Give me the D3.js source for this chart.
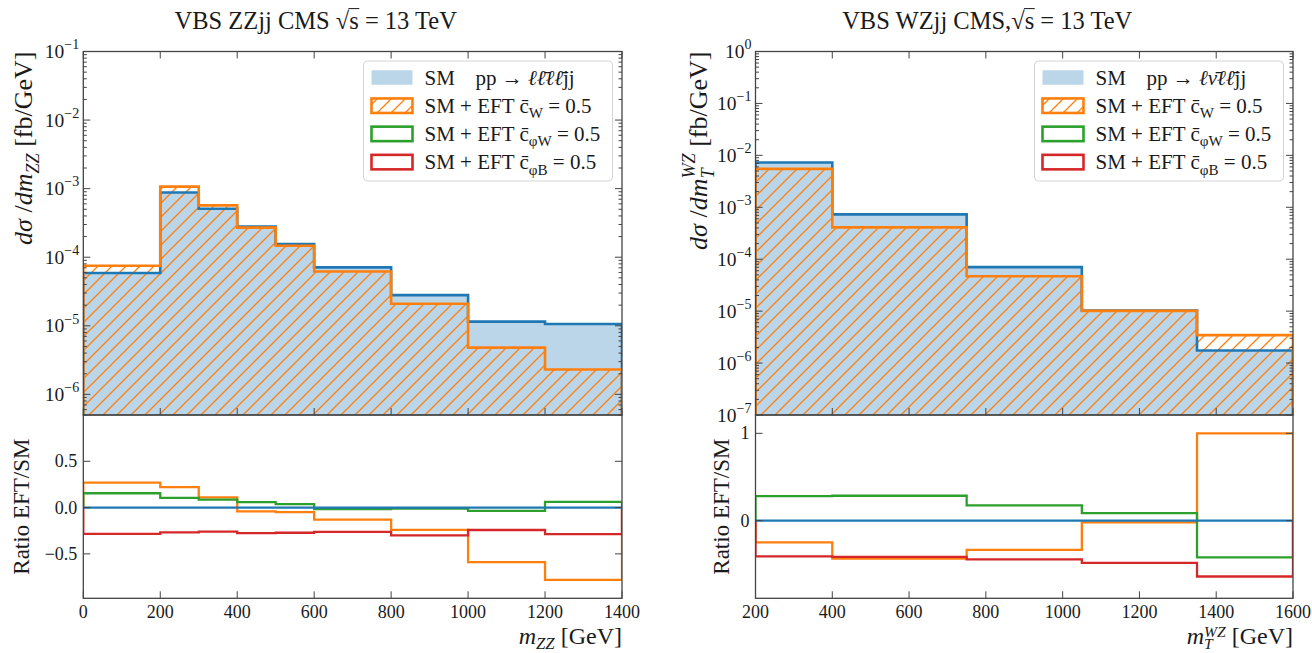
<!DOCTYPE html>
<html><head><meta charset="utf-8">
<script src="https://cdn.jsdelivr.net/npm/d3@7"></script>
<style>
body{margin:0;background:#fff}
text{font-family:"Liberation Serif","DejaVu Serif",serif;fill:#1a1a1a}
</style>
</head><body>
<svg id="c" width="1312" height="653"></svg>
<script>
// ---------------- DATA ----------------
// ZZ panel (m_ZZ bins, GeV)
const zzEdges = [0, 200, 300, 400, 500, 600, 800, 1000, 1200, 1400];
const zzSM    = [5.9e-5, 8.8e-4, 5.1e-4, 2.8e-4, 1.55e-4, 7.1e-5, 2.8e-5, 1.15e-5, 1.06e-5];
const zzCW    = [7.5e-5, 1.07e-3, 5.7e-4, 2.7e-4, 1.47e-4, 6.2e-5, 2.1e-5, 4.8e-6, 2.3e-6];
const zzRatioCW    = [0.27, 0.22, 0.11, -0.04, -0.05, -0.13, -0.24, -0.59, -0.78];
const zzRatioCphiW = [0.155, 0.105, 0.085, 0.058, 0.037, -0.017, -0.012, -0.036, 0.062];
const zzRatioCphiB = [-0.285, -0.268, -0.26, -0.275, -0.272, -0.262, -0.30, -0.242, -0.286];
const zzXTicks = [0, 200, 400, 600, 800, 1000, 1200, 1400];
const zzRTicks = [-0.5, 0.0, 0.5];
const zzRTickLabels = ["\u22120.5", "0.0", "0.5"];

// WZ panel (m_T^WZ bins, GeV)
const wzEdges = [200, 400, 750, 1050, 1350, 1600];
const wzSM    = [7.3e-3, 7.3e-4, 7.05e-5, 1.03e-5, 1.75e-6];
const wzCW    = [5.5e-3, 4.1e-4, 4.7e-5, 1.01e-5, 3.45e-6];
const wzRatioCW    = [-0.25, -0.435, -0.335, -0.02, 1.0];
const wzRatioCphiW = [0.28, 0.285, 0.175, 0.085, -0.42];
const wzRatioCphiB = [-0.41, -0.415, -0.445, -0.485, -0.64];
const wzXTicks = [200, 400, 600, 800, 1000, 1200, 1400, 1600];
const wzRTicks = [0, 1];
const wzRTickLabels = ["0", "1"];

const legendCoeffs = [["W"], ["\u03c6W"], ["\u03c6B"]];

// ---------------- STYLE ----------------
const COL = {blue:"#1f77b4", orange:"#ff7f0e", green:"#2ca02c", red:"#d62728", spine:"#444"};
const TOP = 51.5, MID = 415, BOT = 598.3;

const svg = d3.select("#c");
const defs = svg.append("defs");
const pat = defs.append("pattern").attr("id","hatch").attr("patternUnits","userSpaceOnUse")
  .attr("width",14).attr("height",14);
pat.append("path").attr("d","M-2,16 L16,-2 M-9,9 L9,-9 M5,23 L23,5")
  .attr("stroke",COL.orange).attr("stroke-width",1.3).attr("fill","none");

function rich(parent, segs, fs, attrs){
  const t = parent.append("text").attr("font-size", fs);
  for (const k in attrs) t.attr(k, attrs[k]);
  let off = 0, prevSub = null;
  segs.forEach(s => {
    const target = s.sub ? (s.shift||0.26)*fs : s.sup ? -(s.shift||0.45)*fs : 0;
    const sp = t.append("tspan").text(s.t).attr("dy", target - off);
    off = target;
    if (s.sub || s.sup) sp.attr("font-size", (s.scale||0.7)*fs);
    if (s.it) sp.attr("font-style","italic");
    if (s.stack && prevSub) sp.attr("dx", -prevSub.node().getComputedTextLength());
    if (s.sub) prevSub = sp;
  });
  return t;
}

const panels = [
  {id:"zz", edges:zzEdges, sm:zzSM, cw:zzCW, rCW:zzRatioCW, rPW:zzRatioCphiW, rPB:zzRatioCphiB,
   x0:83.3, x1:622, yDom:[5e-7,1e-1], rDom:[-0.98,1.0], xTicks:zzXTicks, rTicks:zzRTicks, rLabels:zzRTickLabels,
   title:"VBS ZZjj CMS ", ylabX:32, rlabX:29, xlabY:644,
   ylab:[{t:"d\u03c3",it:true},{t:" /",it:false},{t:"dm",it:true},{t:"ZZ",it:true,sub:true},{t:" [fb/GeV]"}],
   xlab:[{t:"m",it:true},{t:"ZZ",it:true,sub:true,shift:0.2},{t:" [GeV]"}],
   proc:[{t:"pp \u2192 "},{t:"\u2113\u2113\u0304\u2113\u2113\u0304",it:true},{t:"jj"}]},
  {id:"wz", edges:wzEdges, sm:wzSM, cw:wzCW, rCW:wzRatioCW, rPW:wzRatioCphiW, rPB:wzRatioCphiB,
   x0:755.5, x1:1293, yDom:[1e-7,1], rDom:[-0.89,1.21], xTicks:wzXTicks, rTicks:wzRTicks, rLabels:wzRTickLabels,
   title:"VBS WZjj CMS,", ylabX:707, rlabX:729, xlabY:644,
   ylab:[{t:"d\u03c3",it:true},{t:" /",it:false},{t:"dm",it:true},{t:"T",it:true,sub:true},{t:"WZ",it:true,sup:true,stack:true},{t:" [fb/GeV]"}],
   xlab:[{t:"m",it:true},{t:"T",it:true,sub:true,scale:0.65,shift:0.2},{t:"WZ",it:true,sup:true,stack:true,scale:0.65,shift:0.3},{t:" [GeV]"}],
   proc:[{t:"pp \u2192 "},{t:"\u2113\u03bd\u0304\u2113\u2113\u0304",it:true},{t:"jj"}]}
];

panels.forEach((P, pi) => {
  const g = svg.append("g");
  const x = d3.scaleLinear().domain([P.edges[0], P.edges[P.edges.length-1]]).range([P.x0, P.x1]);
  const y = d3.scaleLog().domain(P.yDom).range([MID, TOP]);
  const r = d3.scaleLinear().domain(P.rDom).range([BOT, MID]);

  defs.append("clipPath").attr("id","cm"+pi).append("rect")
    .attr("x",P.x0).attr("y",TOP).attr("width",P.x1-P.x0).attr("height",MID-TOP);
  defs.append("clipPath").attr("id","cr"+pi).append("rect")
    .attr("x",P.x0).attr("y",MID).attr("width",P.x1-P.x0).attr("height",BOT-MID);

  const stepPts = (vals, base) => {
    const pts = [[P.edges[0], base]];
    vals.forEach((v,i) => { pts.push([P.edges[i], v]); pts.push([P.edges[i+1], v]); });
    pts.push([P.edges[P.edges.length-1], base]);
    return pts;
  };
  const lineMain = d3.line().x(d => x(d[0])).y(d => d[1] === null ? MID + 5 : y(d[1]));
  const lineR = d3.line().x(d => x(d[0])).y(d => r(d[1]));

  const gm = g.append("g").attr("clip-path","url(#cm"+pi+")");
  gm.append("path").attr("d", lineMain(stepPts(P.sm, null)) + "Z")
    .attr("fill", COL.blue).attr("fill-opacity",0.3).attr("stroke","none");
  gm.append("path").attr("d", lineMain(stepPts(P.cw, null)) + "Z")
    .attr("fill","url(#hatch)").attr("stroke","none");
  gm.append("path").attr("d", lineMain(stepPts(P.sm, null)))
    .attr("fill","none").attr("stroke",COL.blue).attr("stroke-width",2.6);
  gm.append("path").attr("d", lineMain(stepPts(P.cw, null)))
    .attr("fill","none").attr("stroke",COL.orange).attr("stroke-width",2.6);

  const gr = g.append("g").attr("clip-path","url(#cr"+pi+")");
  [[P.rCW, COL.orange],[P.rPW, COL.green],[P.rPB, COL.red],[P.edges.slice(1).map(()=>0), COL.blue]]
    .forEach(([vals,c]) => {
      gr.append("path").attr("d", lineR(stepPts(vals, 0)))
        .attr("fill","none").attr("stroke",c).attr("stroke-width",2.3);
    });

  const sp = g.append("g").attr("stroke",COL.spine).attr("fill","none").attr("stroke-width",1.3);
  sp.append("rect").attr("x",P.x0).attr("y",TOP).attr("width",P.x1-P.x0).attr("height",MID-TOP);
  sp.append("rect").attr("x",P.x0).attr("y",MID).attr("width",P.x1-P.x0).attr("height",BOT-MID);

  const tk = g.append("g").attr("stroke",COL.spine).attr("stroke-width",1);
  const e0 = Math.ceil(Math.log10(P.yDom[0]) - 1e-9), e1 = Math.floor(Math.log10(P.yDom[1]) + 1e-9);
  for (let e = Math.floor(Math.log10(P.yDom[0])); e <= e1; e++) {
    for (let k = 1; k <= 9; k++) {
      const v = k * Math.pow(10, e);
      if (v < P.yDom[0]*0.999 || v > P.yDom[1]*1.001) continue;
      const L = k === 1 ? 7 : 3.5;
      const yy = y(v);
      tk.append("line").attr("x1",P.x0).attr("x2",P.x0+L).attr("y1",yy).attr("y2",yy);
      tk.append("line").attr("x1",P.x1).attr("x2",P.x1-L).attr("y1",yy).attr("y2",yy);
    }
  }
  for (let e = e0; e <= e1; e++) {
    const supTxt = e < 0 ? "\u2212" + (-e) : String(e);
    rich(g, [{t:"10"},{t:supTxt, sup:true, scale:0.72}], 19.5,
      {x:P.x0-4, y:y(Math.pow(10,e))+6.5, "text-anchor":"end"});
  }
  P.xTicks.forEach(v => {
    const xx = x(v);
    tk.append("line").attr("x1",xx).attr("x2",xx).attr("y1",MID).attr("y2",MID-7);
    tk.append("line").attr("x1",xx).attr("x2",xx).attr("y1",TOP).attr("y2",TOP+7);
    tk.append("line").attr("x1",xx).attr("x2",xx).attr("y1",BOT).attr("y2",BOT-7);
    g.append("text").attr("x",xx).attr("y",BOT+20).attr("text-anchor","middle")
      .attr("font-size",18).text(v);
  });
  P.rTicks.forEach((v,i) => {
    const yy = r(v);
    tk.append("line").attr("x1",P.x0).attr("x2",P.x0+7).attr("y1",yy).attr("y2",yy);
    tk.append("line").attr("x1",P.x1).attr("x2",P.x1-7).attr("y1",yy).attr("y2",yy);
    g.append("text").attr("x",P.x0-6).attr("y",yy+6).attr("text-anchor","end")
      .attr("font-size",18).text(P.rLabels[i]);
  });

  rich(g, P.ylab, 26, {transform:`translate(${P.ylabX},${TOP}) rotate(-90)`, "text-anchor":"end"});
  g.append("text").attr("transform",`translate(${P.rlabX},${(MID+BOT)/2}) rotate(-90)`)
    .attr("text-anchor","middle").attr("font-size",23).text("Ratio EFT/SM");
  rich(g, P.xlab, 24, {x:P.x1, y:P.xlabY, "text-anchor":"end"});

  // title (offset left of the axes centre as in the reference)
  const cx = (P.x0 + P.x1)/2 - 37;
  const tt = g.append("text").attr("x",cx).attr("y",29).attr("text-anchor","middle").attr("font-size",24.5);
  tt.append("tspan").text(P.title);
  tt.append("tspan").text("\u221a");
  tt.append("tspan").text("s");
  tt.append("tspan").text(" = 13 TeV");
  const n = tt.node();
  const iR = P.title.length, iS = iR + 1;
  const exR = n.getExtentOfChar(iR), exS = n.getExtentOfChar(iS);
  g.append("line").attr("x1", exR.x + exR.width - 0.8).attr("x2", exS.x + exS.width + 0.5)
    .attr("y1", exR.y + 1.6).attr("y2", exR.y + 1.6).attr("stroke","#1a1a1a").attr("stroke-width",1);

  // legend
  const lx1 = P.x1 - 9.5, lw = 249, lx0 = lx1 - lw, ly0 = 61, lh = 120;
  const lg = g.append("g");
  lg.append("rect").attr("x",lx0).attr("y",ly0).attr("width",lw).attr("height",lh).attr("rx",4)
    .attr("fill","#fff").attr("fill-opacity",0.85).attr("stroke","#d4d4d4").attr("stroke-width",1);
  const rowY = i => ly0 + 16.5 + i*28.2;
  const px = lx0 + 8, pw = 41, ph = 14.5;
  lg.append("rect").attr("x",px).attr("y",rowY(0)-ph/2).attr("width",pw).attr("height",ph)
    .attr("fill",COL.blue).attr("fill-opacity",0.3);
  lg.append("rect").attr("x",px).attr("y",rowY(1)-ph/2).attr("width",pw).attr("height",ph)
    .attr("fill","url(#hatch)").attr("stroke",COL.orange).attr("stroke-width",2.6);
  lg.append("rect").attr("x",px).attr("y",rowY(2)-ph/2).attr("width",pw).attr("height",ph)
    .attr("fill","none").attr("stroke",COL.green).attr("stroke-width",2.6);
  lg.append("rect").attr("x",px).attr("y",rowY(3)-ph/2).attr("width",pw).attr("height",ph)
    .attr("fill","none").attr("stroke",COL.red).attr("stroke-width",2.6);
  const tx = lx0 + 61, FS = 21;
  lg.append("text").attr("x",tx).attr("y",rowY(0)+7).attr("font-size",FS).text("SM");
  rich(lg, P.proc, FS, {x: tx + 51, y: rowY(0)+7});
  legendCoeffs.forEach((c,i) => {
    rich(lg, [{t:"SM + EFT c\u0304"},{t:c[0],sub:true,scale:0.72},{t:" = 0.5"}], FS, {x:tx, y:rowY(i+1)+7});
  });
});
</script>
</body></html>
